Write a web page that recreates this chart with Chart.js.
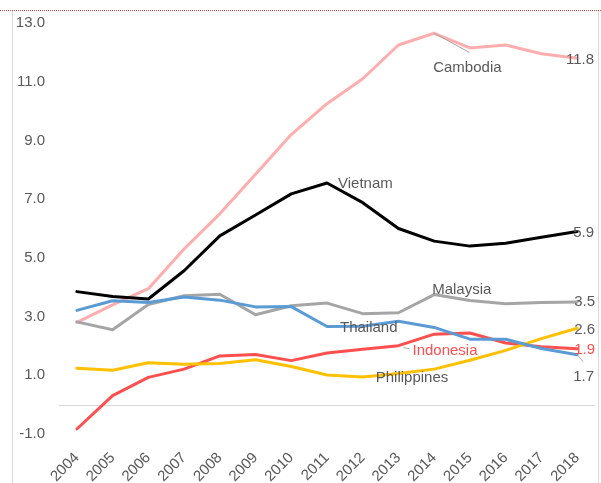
<!DOCTYPE html>
<html>
<head>
<meta charset="utf-8">
<script src="https://cdn.jsdelivr.net/npm/chart.js@4.4.1/dist/chart.umd.min.js"></script>
<style>
  html, body { margin:0; padding:0; background:#fff; }
  #wrap { position:relative; width:601px; height:483px; overflow:hidden; }
  #frame { position:absolute; left:12px; top:10px; width:585px; height:480px;
           border-left:1px solid #d9d9d9; border-right:1px solid #d9d9d9; }
  #topline { position:absolute; left:0; top:10px; width:601px; height:0;
             border-top:1px dotted #c0504d; }
  canvas { position:absolute; left:0; top:0; }
</style>
</head>
<body>
<div id="wrap">
  <div id="frame"></div>
  <div id="topline"></div>
  <canvas id="chart" width="601" height="483"></canvas>
</div>
<script>
/* -------- data -------- */
const YEARS       = ['2004','2005','2006','2007','2008','2009','2010','2011','2012','2013','2014','2015','2016','2017','2018'];
const CAMBODIA    = [2.8, 3.4, 3.95, 5.3, 6.5, 7.85, 9.2, 10.25, 11.1, 12.25, 12.65, 12.15, 12.25, 11.95, 11.8];
const VIETNAM     = [3.85, 3.68, 3.6, 4.56, 5.75, 6.46, 7.18, 7.55, 6.88, 6.0, 5.57, 5.4, 5.5, 5.7, 5.9];
const MALAYSIA    = [2.82, 2.55, 3.41, 3.71, 3.76, 3.06, 3.37, 3.46, 3.1, 3.13, 3.75, 3.55, 3.44, 3.48, 3.5];
const THAILAND    = [3.21, 3.54, 3.48, 3.67, 3.56, 3.33, 3.34, 2.66, 2.67, 2.84, 2.63, 2.23, 2.23, 1.91, 1.7];
const INDONESIA   = [-0.83, 0.31, 0.93, 1.21, 1.66, 1.71, 1.5, 1.76, 1.89, 2.01, 2.4, 2.44, 2.1, 1.97, 1.9];
const PHILIPPINES = [1.24, 1.17, 1.43, 1.38, 1.4, 1.53, 1.3, 1.01, 0.94, 1.06, 1.21, 1.51, 1.85, 2.25, 2.6];
const Y_MIN = -1, Y_MAX = 13, Y_STEP = 2;

const txtClr  = '#595959';
const font    = { family:'Liberation Sans, Arial, sans-serif', size:15 };

const series = [
  { label:'Vietnam',     data:VIETNAM,     col:'#000000' },
  { label:'Thailand',    data:THAILAND,    col:'#5b9bd5' },
  { label:'Philippines', data:PHILIPPINES, col:'#ffc000' },
  { label:'Indonesia',   data:INDONESIA,   col:'#ff4f4f' },
  { label:'Malaysia',    data:MALAYSIA,    col:'#a5a5a5' },
  { label:'Cambodia',    data:CAMBODIA,    col:'#ffadad' },
];

/* -------- inline labels: series, point, text, offset from point -------- */
const LABELS = [
  { s:'Cambodia',    i:10, text:'Cambodia',    dx:-1,  dy:35, align:'left',  lead:[0,0,35,19] },
  { s:'Vietnam',     i:7,  text:'Vietnam',     dx:11,  dy:1,  align:'left' },
  { s:'Malaysia',    i:10, text:'Malaysia',    dx:-2,  dy:-5, align:'left' },
  { s:'Thailand',    i:7,  text:'Thailand',    dx:13,  dy:1,  align:'left' },
  { s:'Indonesia',   i:9,  text:'Indonesia',   dx:14,  dy:5,  align:'left',  col:'#ff4f4f', lead:[5,2,11,3] },
  { s:'Philippines', i:8,  text:'Philippines', dx:13,  dy:1,  align:'left' },
  { s:'Cambodia',    i:14, text:'11.8', dx:17, dy:2,  align:'right' },
  { s:'Vietnam',     i:14, text:'5.9',  dx:17, dy:1,  align:'right' },
  { s:'Malaysia',    i:14, text:'3.5',  dx:18, dy:0,  align:'right' },
  { s:'Thailand',    i:14, text:'1.7',  dx:17, dy:22, align:'right', lead:[1,1,6,7] },
  { s:'Philippines', i:14, text:'2.6',  dx:18, dy:2,  align:'right' },
  { s:'Indonesia',   i:14, text:'1.9',  dx:18, dy:1,  align:'right', col:'#ff4f4f' },
];

const $ = id => document.getElementById(id);

/* -------- plugin: zero line + inline labels -------- */
const annot = {
  id:'annot',
  beforeDatasetsDraw(chart) {
    const { ctx, chartArea:a, scales:{ y } } = chart;
    const y0 = Math.round(y.getPixelForValue(0)) + 0.5;
    ctx.save();
    ctx.strokeStyle = '#d9d9d9';
    ctx.lineWidth = 1;
    ctx.beginPath(); ctx.moveTo(a.left, y0); ctx.lineTo(a.right, y0); ctx.stroke();
    ctx.restore();
  },
  afterDatasetsDraw(chart) {
    const { ctx, scales:{ x, y } } = chart;
    ctx.save();
    ctx.font = `${font.size}px ${font.family}`;
    ctx.textBaseline = 'middle';
    LABELS.forEach(l => {
      const s  = series.find(d => d.label === l.s);
      const px = x.getPixelForValue(l.i);
      const py = y.getPixelForValue(s.data[l.i]);
      if (l.lead) {
        ctx.strokeStyle = '#a5a5a5';
        ctx.lineWidth = 1;
        ctx.beginPath();
        ctx.moveTo(px + l.lead[0], py + l.lead[1]);
        ctx.lineTo(px + l.lead[2], py + l.lead[3]);
        ctx.stroke();
      }
      ctx.fillStyle = l.col || txtClr;
      ctx.textAlign = l.align;
      ctx.fillText(l.text, px + l.dx, py + l.dy);
    });
    ctx.restore();
  },
};

new Chart($('chart'), {
  type:'line',
  data:{
    labels:YEARS,
    datasets:series.map(s => ({
      label:s.label, data:s.data,
      borderColor:s.col, backgroundColor:s.col,
      borderWidth:3, tension:0, pointRadius:0,
      borderJoinStyle:'round', borderCapStyle:'round', fill:false,
    })),
  },
  options:{
    responsive:false, animation:false,
    layout:{ padding:{ left:12, top:23, right:6, bottom:0 } },
    plugins:{ legend:{ display:false }, tooltip:{ enabled:false } },
    scales:{
      x:{
        offset:true,
        grid:{ display:false, drawTicks:false }, border:{ display:false },
        ticks:{ color:txtClr, font, minRotation:45, maxRotation:45, padding:15 },
        afterFit:s => { s.height = 49; s.paddingLeft = 0; s.paddingRight = 0; },
      },
      y:{
        min:Y_MIN, max:Y_MAX,
        grid:{ display:false, drawTicks:false }, border:{ display:false },
        ticks:{ stepSize:Y_STEP, color:txtClr, font, padding:14,
                callback:v => (+v).toFixed(1) },
        afterFit:s => { s.width = 47; },
      },
    },
  },
  plugins:[annot],
});
</script>
</body>
</html>
